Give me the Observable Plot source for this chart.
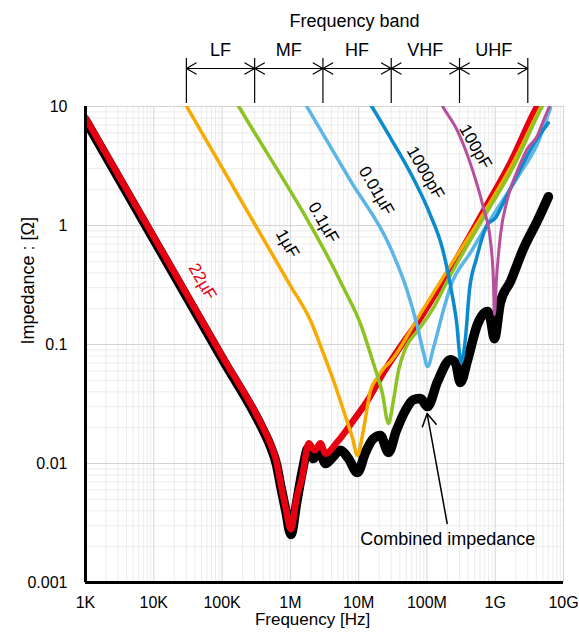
<!DOCTYPE html>
<html><head><meta charset="utf-8">
<script src="https://cdn.jsdelivr.net/npm/d3@7"></script>
<script src="https://cdn.jsdelivr.net/npm/@observablehq/plot@0.6"></script>
<style>
body{margin:0;background:#fff;}
#wrap{position:relative;width:579px;height:632px;}
#wrap svg{position:absolute;left:0;top:0;}
</style></head><body><div id="wrap"></div>
<script>
// ---- tick labels ----
const freqTicks = [1e3, 1e4, 1e5, 1e6, 1e7, 1e8, 1e9, 1e10];
const freqTickLabels = ["1K", "10K", "100K", "1M", "10M", "100M", "1G", "10G"];
const zTicks = [0.001, 0.01, 0.1, 1, 10];
const zTickLabels = ["0.001", "0.01", "0.1", "1", "10"];

// ---- frequency bands ----
const bandNames = ["LF", "MF", "HF", "VHF", "UHF"];
const bandEdges = [3e4, 3e5, 3e6, 3e7, 3e8, 3e9];

// ---- series: [frequency Hz, impedance Ohm] ----
const combined = [[1e3,7.66],[1e4,0.766],[1e5,0.0766],[4e5,0.0190],[5.1e5,0.0140],[6.3e5,0.0097],[7.2e5,0.0065],[8.5e5,0.0041],[1.02e6,0.00253],[1.23e6,0.0046],[1.5e6,0.0087],[1.84e6,0.0136],[2.18e6,0.0110],[2.67e6,0.0129],[3.27e6,0.0100],[4.0e6,0.0110],[5.42e6,0.0129],[7.1e6,0.0110],[9.6e6,0.0084],[1.26e7,0.0124],[1.65e7,0.0162],[2.08e7,0.0172],[2.73e7,0.0124],[3.57e7,0.0189],[4.84e7,0.0279],[6.34e7,0.0344],[8.04e7,0.0352],[1.02e8,0.0301],[1.43e8,0.0488],[2.21e8,0.0746],[2.61e8,0.0705],[3.09e8,0.0479],[3.92e8,0.0733],[5.48e8,0.147],[7.69e8,0.189],[8.51e8,0.165],[9.72e8,0.112],[1.19e9,0.225],[1.67e9,0.338],[2.59e9,0.638],[4.15e9,1.096],[6.01e9,1.746]];
const cap22uF = [[1e3,8.04],[1e4,0.804],[1e5,0.0804],[4e5,0.0199],[5.1e5,0.0147],[6.3e5,0.0102],[7.2e5,0.0068],[8.5e5,0.0043],[1.02e6,0.0028],[1.23e6,0.0051],[1.49e6,0.0077],[1.86e6,0.0148],[2.28e6,0.0129],[2.76e6,0.0148],[3.27e6,0.0121],[4.84e6,0.0151],[8.4e6,0.0230],[1.35e7,0.0338],[2.31e7,0.058],[4.09e7,0.096],[7.26e7,0.153],[1.33e8,0.267],[2.07e8,0.401],[3.66e8,0.703],[6.71e8,1.31],[1.67e9,3.37],[4.15e9,10.1],[5.43e9,13]];
const cap1uF = [[2.46e4,12.3],[3.0e4,10.1],[1.0e6,0.313],[1.97e6,0.159],[3.2e6,0.078],[4.28e6,0.0498],[6.0e6,0.0279],[8.1e6,0.0165],[9.6e6,0.0117],[1.17e7,0.0189],[1.49e7,0.041],[1.88e7,0.0527],[2.31e7,0.0628],[2.92e7,0.0718],[7.26e7,0.165],[2.07e8,0.434],[6.71e8,1.26],[1.79e9,3.30],[4.74e9,10.1],[5.62e9,12.1]];
const cap100nF = [[1.42e5,12.3],[1.74e5,10.1],[5.98e6,0.301],[1.06e7,0.150],[1.65e7,0.0692],[2.23e7,0.0387],[2.73e7,0.0217],[3.23e7,0.0338],[3.83e7,0.0604],[4.84e7,0.0925],[7.52e7,0.133],[1.25e8,0.204],[2.0e8,0.344],[3.66e8,0.638],[7.19e8,1.233],[1.85e9,3.12],[4.91e9,10.1],[5.8e9,12]];
const cap10nF = [[1.41e6,12.3],[1.72e6,10.1],[7.59e6,2.38],[2.92e7,0.650],[5.13e7,0.284],[7.19e7,0.144],[8.98e7,0.0839],[1.02e8,0.0652],[1.25e8,0.0942],[1.75e8,0.196],[2.21e8,0.306],[4.34e8,0.592],[9.42e8,1.23],[2.34e9,2.77],[4.15e9,4.86],[6.43e9,9.75]];
const cap1000pF = [[1.26e7,12.1],[1.54e7,10.1],[2.92e7,5.46],[5.73e7,2.77],[1.12e8,1.23],[1.69e8,0.638],[2.21e8,0.313],[2.70e8,0.159],[3.17e8,0.0705],[3.66e8,0.112],[4.19e8,0.284],[5.31e8,0.526],[7.69e8,1.016],[1.01e9,1.16],[1.27e9,1.49],[2.11e9,2.67],[3.75e9,4.95],[6.01e9,7.29]];
const cap100pF = [[1.47e8,11.8],[1.69e8,10.1],[2.80e8,6.25],[4.80e8,2.77],[6.71e8,1.41],[8.51e8,0.745],[9.42e8,0.344],[9.73e8,0.178],[1.04e9,0.344],[1.19e9,0.820],[1.51e9,1.67],[2.11e9,2.88],[2.96e9,4.42],[4.15e9,5.68],[5.08e9,7.59],[6.43e9,10.5]];

// ---- capacitor labels (placed along curves, in data coordinates) ----
const capLabels = [
  {name: "22µF", f: 5.16e4, z: 0.337, color: "#e60012"},
  {name: "1µF", f: 9.08e5, z: 0.703, color: "#000"},
  {name: "0.1µF", f: 3.05e6, z: 1.06, color: "#000"},
  {name: "0.01µF", f: 1.82e7, z: 1.96, color: "#000"},
  {name: "1000pF", f: 9.5e7, z: 2.77, color: "#000"},
  {name: "100pF", f: 5.13e8, z: 4.59, color: "#000"}
];
const callout = {text: "Combined impedance", f: 2.02e8, z: 0.0023, f1: 1.98e8, z1: 0.00313, f2: 1.007e8, z2: 0.0263};

const toRows = a => a.map(([f, z]) => ({f, z}));
const FONT = "'Liberation Sans', Arial, Helvetica, sans-serif";

const minorX = [], minorY = [];
for (let e = 3; e < 10; e++) for (let k = 2; k <= 9; k++) minorX.push(k * 10 ** e);
for (let e = -3; e < 1; e++) for (let k = 2; k <= 9; k++) minorY.push(k * 10 ** e);

const lineOpts = (stroke, w) => ({x: "f", y: "z", stroke, strokeWidth: w, curve: "monotone-x", clip: true, strokeLinejoin: "round", strokeLinecap: "round"});

const main = Plot.plot({
  width: 579, height: 632,
  marginLeft: 85, marginRight: 16, marginTop: 106, marginBottom: 50,
  style: {fontFamily: FONT, fontSize: "16px", background: "#fff", color: "#000"},
  x: {type: "log", domain: [1e3, 1e10], ticks: freqTicks, tickFormat: d => freqTickLabels[Math.round(Math.log10(d)) - 3], tickSize: 0, tickPadding: 14, label: null},
  y: {type: "log", domain: [1e-3, 10], ticks: zTicks, tickFormat: d => zTickLabels[Math.round(Math.log10(d)) + 3], tickSize: 0, tickPadding: 18, label: null},
  marks: [
    Plot.ruleX(minorX, {stroke: "#ececec", strokeWidth: 1}),
    Plot.ruleY(minorY, {stroke: "#ececec", strokeWidth: 1}),
    Plot.ruleX(freqTicks, {stroke: "#d4d4d4", strokeWidth: 1}),
    Plot.ruleY(zTicks, {stroke: "#d4d4d4", strokeWidth: 1}),
    Plot.line(toRows(combined), lineOpts("#000", 9.5)),
    Plot.line(toRows(cap22uF), lineOpts("#e60012", 6.5)),
    Plot.line(toRows(cap1uF), lineOpts("#f7aa00", 3.5)),
    Plot.line(toRows(cap100nF), lineOpts("#8cc221", 3.5)),
    Plot.line(toRows(cap10nF), lineOpts("#5bb5e6", 3.5)),
    Plot.line(toRows(cap1000pF), lineOpts("#0b8acd", 3.5)),
    Plot.line(toRows(cap100pF), lineOpts("#b6509d", 3)),
    Plot.ruleX([1e3], {stroke: "#000", strokeWidth: 3}),
    Plot.ruleY([1e-3], {stroke: "#000", strokeWidth: 3}),
    Plot.text(capLabels, {x: "f", y: "z", text: "name", fill: "color", rotate: 60, fontSize: 17}),
    Plot.arrow([callout], {x1: "f1", y1: "z1", x2: "f2", y2: "z2", stroke: "#000", strokeWidth: 1.5, headLength: 14}),
    Plot.text([callout], {x: "f", y: "z", text: "text", fontSize: 18}),
    Plot.text(["Frequency [Hz]"], {frameAnchor: "bottom", dy: 42, dx: -12, fontSize: 17}),
    Plot.text(["Impedance : [Ω]"], {frameAnchor: "left", dx: -57, rotate: -90, fontSize: 18})
  ]
});

const bands = bandNames.map((name, i) => ({name, lo: bandEdges[i], hi: bandEdges[i + 1], mid: Math.sqrt(bandEdges[i] * bandEdges[i + 1])}));

const header = Plot.plot({
  width: 579, height: 106,
  marginLeft: 85, marginRight: 16, marginTop: 0, marginBottom: 0,
  style: {fontFamily: FONT, fontSize: "18px", background: "transparent", color: "#000"},
  x: {type: "log", domain: [1e3, 1e10], axis: null},
  y: {type: "identity", axis: null},
  marks: [
    Plot.ruleX(bandEdges, {x: d => d, y1: 58, y2: 103, stroke: "#000", strokeWidth: 1.2}),
    Plot.arrow(bands, {x1: "mid", x2: "lo", y1: 68, y2: 68, stroke: "#000", strokeWidth: 1.2, headLength: 14}),
    Plot.arrow(bands, {x1: "mid", x2: "hi", y1: 68, y2: 68, stroke: "#000", strokeWidth: 1.2, headLength: 14}),
    Plot.text(bands, {x: "mid", y: 50, text: "name", fontSize: 18}),
    Plot.text(["Frequency band"], {x: [8.7e6], y: 21, text: d => d, fontSize: 18})
  ]
});

const wrap = document.getElementById("wrap");
wrap.appendChild(main);
wrap.appendChild(header);
</script></body></html>
